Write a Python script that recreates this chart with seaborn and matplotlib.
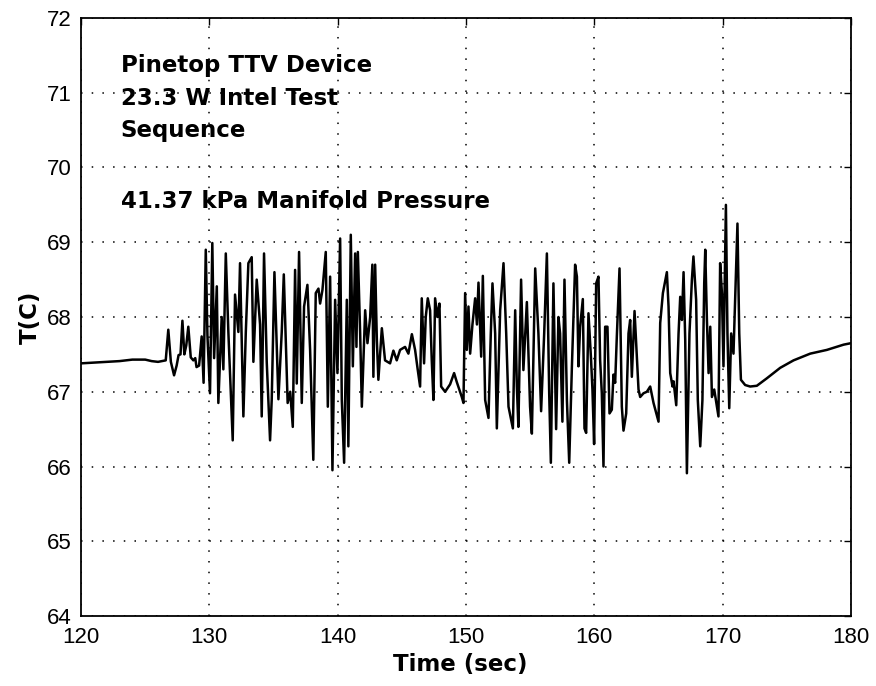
import matplotlib
matplotlib.use("Agg")
import matplotlib.pyplot as plt
import seaborn as sns
import pandas as pd

# Die temperature trace during the test sequence
time_s = [
    120.0, 121.0, 122.0, 123.0, 124.0, 125.0, 125.5, 126.0, 126.3, 126.6,
    126.8, 127.0, 127.25, 127.45, 127.6, 127.75, 127.9, 128.05, 128.2, 128.36,
    128.55, 128.75, 128.9, 129.0, 129.2, 129.4, 129.55, 129.72, 129.85, 130.05,
    130.23, 130.37, 130.58, 130.7, 130.96, 131.09, 131.28, 131.48, 131.82, 132.0,
    132.26, 132.39, 132.65, 132.84, 133.04, 133.3, 133.43, 133.69, 133.95, 134.08,
    134.26, 134.47, 134.73, 134.86, 135.07, 135.38, 135.64, 135.8, 136.1, 136.3,
    136.5, 136.68, 136.81, 136.99, 137.2, 137.38, 137.64, 137.85, 138.1, 138.29,
    138.5, 138.63, 138.81, 139.07, 139.23, 139.41, 139.59, 139.8, 139.98, 140.19,
    140.32, 140.5, 140.71, 140.83, 141.02, 141.18, 141.36, 141.46, 141.57, 141.75,
    141.88, 142.14, 142.32, 142.53, 142.7, 142.78, 142.92, 143.05, 143.17, 143.44,
    143.69, 144.08, 144.34, 144.6, 144.86, 145.25, 145.51, 145.78, 146.03, 146.24,
    146.42, 146.55, 146.73, 146.86, 147.02, 147.2, 147.33, 147.46, 147.59, 147.77,
    147.93, 148.06, 148.37, 148.76, 149.07, 149.28, 149.67, 149.8, 149.93, 150.06,
    150.19, 150.32, 150.5, 150.71, 150.85, 150.97, 151.18, 151.31, 151.49, 151.75,
    151.93, 152.06, 152.27, 152.4, 152.66, 152.92, 153.13, 153.31, 153.65, 153.83,
    153.96, 154.08, 154.29, 154.47, 154.74, 154.99, 155.13, 155.39, 155.64, 155.85,
    156.09, 156.3, 156.48, 156.61, 156.81, 157.02, 157.2, 157.33, 157.51, 157.67,
    157.86, 158.04, 158.25, 158.5, 158.64, 158.76, 158.89, 159.1, 159.23, 159.36,
    159.54, 159.73, 159.85, 159.98, 160.14, 160.32, 160.45, 160.58, 160.71, 160.84,
    161.02, 161.18, 161.36, 161.49, 161.62, 161.75, 161.96, 162.14, 162.27, 162.48,
    162.66, 162.79, 162.92, 163.13, 163.31, 163.44, 163.57, 163.83, 164.09, 164.35,
    164.61, 165.0, 165.13, 165.34, 165.65, 165.78, 165.91, 166.09, 166.17, 166.38,
    166.56, 166.69, 166.82, 166.95, 167.08, 167.21, 167.41, 167.6, 167.72, 167.93,
    168.06, 168.25, 168.42, 168.56, 168.64, 168.77, 168.9, 169.03, 169.16, 169.34,
    169.55, 169.67, 169.8, 169.94, 170.06, 170.25, 170.37, 170.51, 170.66, 170.84,
    171.15, 171.29, 171.42, 171.75, 172.14, 172.66, 173.44, 174.48, 175.52, 176.82,
    178.12, 179.42, 180.0,
]
temp_c = [
    67.38, 67.39, 67.40, 67.41, 67.43, 67.43, 67.41, 67.40, 67.41, 67.42,
    67.83, 67.40, 67.22, 67.35, 67.49, 67.50, 67.95, 67.50, 67.62, 67.87,
    67.46, 67.42, 67.45, 67.33, 67.35, 67.74, 67.12, 68.90, 67.75, 66.98,
    68.99, 67.45, 68.41, 66.85, 68.00, 67.30, 68.85, 67.80, 66.35, 68.30,
    67.80, 68.72, 66.67, 67.80, 68.72, 68.80, 67.40, 68.50, 67.90, 66.67,
    68.85, 67.40, 66.35, 66.90, 68.60, 66.90, 67.80, 68.57, 66.85, 67.00,
    66.53, 68.63, 67.11, 68.87, 66.85, 68.14, 68.43, 67.56, 66.09, 68.32,
    68.38, 68.18, 68.36, 68.87, 66.80, 68.54, 65.95, 68.23, 67.25, 69.05,
    66.89, 66.05, 68.23, 66.27, 69.10, 67.34, 68.85, 67.60, 68.87, 67.78,
    66.80, 68.09, 67.65, 68.00, 68.70, 67.20, 68.70, 67.69, 67.16, 67.85,
    67.42, 67.38, 67.55, 67.42, 67.56, 67.60, 67.51, 67.77, 67.56, 67.29,
    67.07, 68.25, 67.38, 68.00, 68.25, 68.09, 67.42, 66.89, 68.25, 68.00,
    68.18, 67.07, 67.00, 67.10, 67.25, 67.13, 66.93, 66.85, 68.32, 67.56,
    68.14, 67.51, 67.90, 68.25, 67.90, 68.46, 67.47, 68.55, 66.89, 66.65,
    67.78, 68.45, 67.78, 66.51, 68.09, 68.72, 67.78, 66.80, 66.51, 68.09,
    67.07, 66.53, 68.50, 67.29, 68.20, 66.80, 66.44, 68.65, 67.78, 66.74,
    67.78, 68.85, 66.98, 66.05, 68.45, 66.50, 68.00, 67.78, 66.60, 68.50,
    66.89, 66.05, 67.34, 68.70, 68.54, 67.34, 67.87, 68.24, 66.51, 66.45,
    68.05, 67.47, 67.03, 66.30, 68.45, 68.54, 67.42, 66.98, 66.00, 67.87,
    67.87, 66.71, 66.76, 67.23, 67.12, 67.74, 68.65, 66.80, 66.48, 66.71,
    67.78, 67.96, 67.20, 68.08, 67.47, 67.03, 66.93, 66.98, 67.00, 67.07,
    66.85, 66.60, 67.92, 68.32, 68.60, 68.14, 67.25, 67.07, 67.14, 66.82,
    67.78, 68.27, 67.96, 68.60, 67.69, 65.91, 67.78, 68.50, 68.81, 68.23,
    66.89, 66.27, 66.89, 68.45, 68.90, 67.96, 67.25, 67.87, 66.93, 67.03,
    66.80, 66.67, 68.72, 68.32, 67.34, 69.50, 67.78, 66.78, 67.78, 67.51,
    69.25, 67.78, 67.16, 67.09, 67.07, 67.08, 67.18, 67.32, 67.42, 67.51,
    67.56, 67.63, 67.65,
]

x_ticks = [120, 130, 140, 150, 160, 170, 180]
y_ticks = [64, 65, 66, 67, 68, 69, 70, 71, 72]

note_lines = [
    "Pinetop TTV Device",
    "23.3 W Intel Test",
    "Sequence",
    "41.37 kPa Manifold Pressure",
]
note_y = [71.28, 70.835, 70.41, 69.455]

sns.set_style("white")
plt.rcParams["font.family"] = ["Liberation Sans", "DejaVu Sans"]
plt.rcParams["text.color"] = "black"
plt.rcParams["axes.labelcolor"] = "black"

df = pd.DataFrame({"Time (sec)": time_s, "T(C)": temp_c})

fig = plt.figure(figsize=(8.76, 6.86), dpi=100)
ax = fig.add_axes([0.0925, 0.102, 0.879, 0.8718])

sns.lineplot(data=df, x="Time (sec)", y="T(C)", ax=ax, color="black",
             linewidth=1.8, estimator=None, sort=False)

ax.set_xlim(120, 180)
ax.set_ylim(64, 72)
ax.set_xticks(x_ticks)
ax.set_yticks(y_ticks)
ax.grid(True, color="black", linestyle=(0, (1, 6)), linewidth=1.1)

for s in ax.spines.values():
    s.set_visible(True)
    s.set_color("black")
    s.set_linewidth(1.3)

ax.tick_params(axis="both", direction="in", top=True, right=True,
               length=5, width=1, labelsize=16, colors="black")
ax.tick_params(axis="x", pad=8)
ax.tick_params(axis="y", pad=7)

bold = dict(family="DejaVu Sans", fontweight="bold", fontsize=16.5, color="black")
ax.set_xlabel("Time (sec)", **bold)
ax.set_ylabel("T(C)", **bold)
ax.xaxis.set_label_coords(0.493, -0.062)
ax.yaxis.set_label_coords(-0.051, 0.5)

for txt, yv in zip(note_lines, note_y):
    ax.text(123.1, yv, txt, va="baseline", ha="left", **bold)

fig.savefig("out.png", dpi=100)
